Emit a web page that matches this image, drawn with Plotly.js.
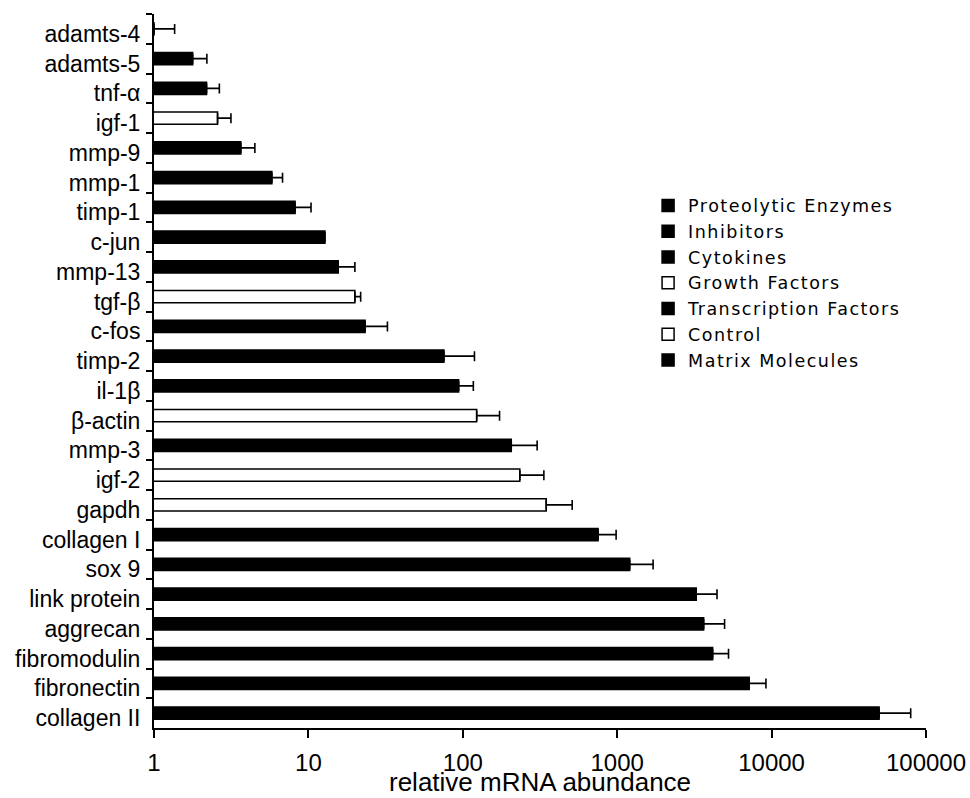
<!DOCTYPE html>
<html>
<head>
<meta charset="utf-8">
<script src="https://cdn.plot.ly/plotly-3.0.1.min.js"></script>
<style>
  html, body { margin: 0; padding: 0; background: #fff; }
  #chart { width: 970px; height: 798px; }
  /* slightly wider tracking for the legend labels (global so text measuring sees it too) */
  .legendtext { letter-spacing: 1.5px; }
</style>
</head>
<body>
<div id="chart"></div>
<script>
// Genes, top to bottom
const genes = [
  'adamts-4', 'adamts-5', 'tnf-α', 'igf-1', 'mmp-9', 'mmp-1', 'timp-1', 'c-jun',
  'mmp-13', 'tgf-β', 'c-fos', 'timp-2', 'il-1β', 'β-actin', 'mmp-3', 'igf-2',
  'gapdh', 'collagen I', 'sox 9', 'link protein', 'aggrecan', 'fibromodulin',
  'fibronectin', 'collagen II'
];

// Mean relative mRNA abundance
const abundance = [
  1.0, 1.78, 2.19, 2.58, 3.65, 5.8, 8.2, 12.8,
  15.6, 20.0, 23.3, 75.5, 94, 123, 206, 234,
  347, 752, 1205, 3250, 3630, 4150,
  7160, 49700
];

// Upper error (one-sided); null = no error bar
const upperError = [
  0.36, 0.42, 0.46, 0.57, 0.85, 1.0, 2.2, null,
  4.4, 1.8, 9.2, 43.5, 23, 50, 97, 101,
  164, 232, 503, 1180, 1330, 1110,
  2030, 29900
];

// Functional class of each gene
const geneClass = [
  'Proteolytic Enzymes', 'Proteolytic Enzymes', 'Cytokines', 'Growth Factors',
  'Proteolytic Enzymes', 'Proteolytic Enzymes', 'Inhibitors', 'Transcription Factors',
  'Proteolytic Enzymes', 'Growth Factors', 'Transcription Factors', 'Inhibitors',
  'Cytokines', 'Control', 'Proteolytic Enzymes', 'Growth Factors',
  'Control', 'Matrix Molecules', 'Transcription Factors', 'Matrix Molecules',
  'Matrix Molecules', 'Matrix Molecules', 'Matrix Molecules', 'Matrix Molecules'
];

// Legend order and fill of each class
const classes = [
  'Proteolytic Enzymes', 'Inhibitors', 'Cytokines', 'Growth Factors',
  'Transcription Factors', 'Control', 'Matrix Molecules'
];
const classFill = ['#000000', '#000000', '#000000', '#ffffff', '#000000', '#ffffff', '#000000'];

const xTicks = [1, 10, 100, 1000, 10000, 100000];
const xTitle = 'relative mRNA abundance';

const traces = classes.map((cls, k) => {
  const idx = genes.map((g, i) => i).filter(i => geneClass[i] === cls);
  return {
    type: 'bar',
    orientation: 'h',
    name: cls,
    y: idx.map(i => genes[i]),
    x: idx.map(i => abundance[i]),
    width: 0.42,
    marker: { color: classFill[k], line: { color: '#000000', width: 1.5 } },
    error_x: {
      type: 'data',
      symmetric: false,
      array: idx.map(i => upperError[i] === null ? NaN : upperError[i]),
      arrayminus: idx.map(() => 0),
      color: '#000000',
      thickness: 1.6,
      width: 5
    },
    hoverinfo: 'x+y'
  };
});

const layout = {
  width: 970,
  height: 798,
  autosize: false,
  margin: { l: 153.5, r: 44, t: 14, b: 70 },
  paper_bgcolor: '#ffffff',
  plot_bgcolor: '#ffffff',
  barmode: 'overlay',
  font: { family: '"Liberation Sans", Arial, sans-serif', color: '#000000' },
  xaxis: {
    type: 'log',
    range: [0, 5],
    tickvals: xTicks,
    ticktext: xTicks.map(String),
    ticks: 'outside',
    ticklen: 8,
    tickwidth: 2,
    tickcolor: '#000000',
    ticklabelstandoff: 4,
    showline: true,
    linecolor: '#000000',
    linewidth: 2,
    showgrid: false,
    zeroline: false,
    tickfont: { size: 24 }
  },
  yaxis: {
    type: 'category',
    categoryorder: 'array',
    categoryarray: genes,
    range: [genes.length - 0.5, -0.5],
    tickson: 'boundaries',
    ticks: 'outside',
    ticklen: 6,
    tickwidth: 2,
    tickcolor: '#000000',
    ticklabelstandoff: 7,
    ticklabelshift: -5,
    showline: true,
    linecolor: '#000000',
    linewidth: 2,
    showgrid: false,
    zeroline: false,
    tickfont: { size: 23 }
  },
  // x-axis title, sitting on the bottom edge under the tick labels
  annotations: [{
    text: xTitle,
    xref: 'paper', yref: 'paper',
    x: 0.5, y: 0,
    xanchor: 'center', yanchor: 'bottom',
    yshift: -70,
    borderpad: 0,
    showarrow: false,
    font: { size: 26, color: '#000000' }
  }],
  showlegend: true,
  legend: {
    x: 0.64,
    xanchor: 'left',
    y: 0.757,
    yanchor: 'top',
    bgcolor: 'rgba(0,0,0,0)',
    borderwidth: 0,
    font: { family: '"DejaVu Sans", Verdana, sans-serif', size: 17.5, color: '#000000' },
    itemwidth: 30,
    traceorder: 'normal'
  }
};

Plotly.newPlot('chart', traces, layout, { displayModeBar: false, staticPlot: true });
</script>
</body>
</html>
